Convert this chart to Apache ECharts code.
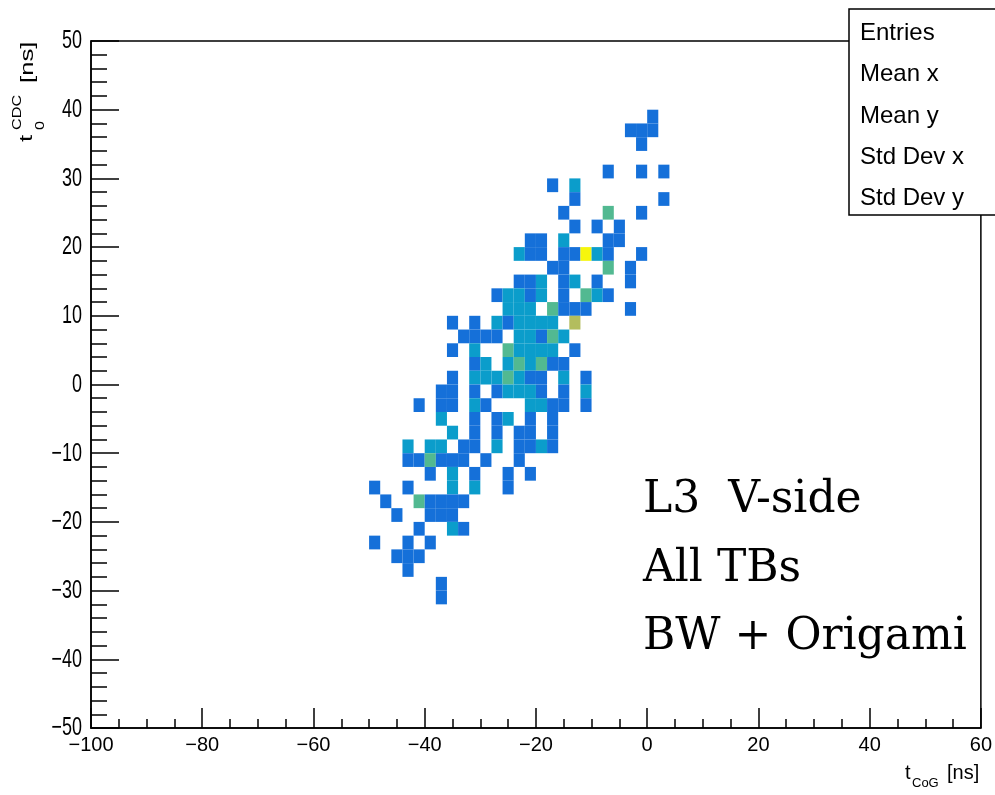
<!DOCTYPE html>
<html>
<head>
<meta charset="utf-8">
<script src="https://cdn.jsdelivr.net/npm/echarts@6/dist/echarts.min.js"></script>
<style>
html,body{margin:0;padding:0;background:#fff;}
#chart{width:995px;height:795px;}
</style>
</head>
<body>
<div id="chart"></div>
<script>
// ---- Data (2D histogram, 2 ns x 2 ns bins; values are bin low edges) ----
const BIN = 2;
const xRange = [-100, 60];
const yRange = [-50, 50];
const xTicks = [-100, -80, -60, -40, -20, 0, 20, 40, 60];
const yTicks = [-50, -40, -30, -20, -10, 0, 10, 20, 30, 40, 50];

// y low edge of each row of bins
const rowY = [38, 36, 34, 30, 28, 26, 24, 22, 20, 18, 16, 14, 12, 10, 8, 6, 4, 2, 0,
  -2, -4, -6, -8, -10, -12, -14, -16, -18, -20, -22, -24, -26, -28, -30, -32];
// x low edges of filled bins in each row
const rowX = [
  [0],
  [-4, -2, 0],
  [-2],
  [-8, -2, 2],
  [-18, -14],
  [-14, 2],
  [-16, -8, -2],
  [-14, -10, -6],
  [-22, -20, -16, -8, -6],
  [-24, -22, -20, -16, -14, -12, -10, -8, -2],
  [-18, -16, -8, -4],
  [-24, -22, -20, -16, -14, -10, -4],
  [-28, -26, -24, -22, -20, -16, -12, -10, -8],
  [-26, -24, -22, -18, -16, -14, -12, -4],
  [-36, -32, -28, -26, -24, -22, -20, -18, -14],
  [-34, -32, -30, -28, -24, -22, -20, -18, -16],
  [-36, -32, -26, -24, -22, -20, -18, -14],
  [-32, -30, -26, -24, -22, -20, -18, -16],
  [-36, -32, -30, -28, -26, -24, -22, -20, -16, -12],
  [-38, -36, -32, -28, -26, -24, -22, -20, -16, -12],
  [-42, -38, -36, -32, -30, -22, -20, -18, -16, -12],
  [-38, -32, -28, -26, -22, -18],
  [-36, -32, -28, -24, -22, -18],
  [-44, -40, -38, -34, -32, -28, -24, -22, -20, -18],
  [-44, -42, -40, -38, -36, -34, -30, -24],
  [-40, -36, -32, -26, -22],
  [-50, -44, -36, -32, -26],
  [-48, -42, -40, -38, -36, -34],
  [-46, -40, -38, -36],
  [-42, -36, -34],
  [-50, -44, -40],
  [-46, -44, -42],
  [-44],
  [-38],
  [-38]
];
// entries in each of those bins
const rowCount = [
  [1],
  [1, 1, 1],
  [1],
  [1, 1, 1],
  [1, 2],
  [1, 1],
  [1, 3, 1],
  [1, 1, 1],
  [1, 1, 2, 1, 1],
  [2, 1, 1, 1, 1, 5, 2, 1, 1],
  [1, 1, 3, 1],
  [1, 1, 2, 1, 2, 1, 1],
  [1, 2, 2, 1, 2, 1, 3, 2, 1],
  [2, 2, 2, 3, 1, 1, 1, 1],
  [1, 1, 2, 1, 2, 2, 2, 2, 4],
  [1, 1, 1, 1, 2, 2, 1, 3, 2],
  [1, 2, 3, 2, 2, 2, 2, 1],
  [1, 2, 2, 3, 2, 3, 1, 1],
  [1, 2, 2, 2, 3, 2, 1, 1, 2, 1],
  [1, 1, 1, 1, 2, 2, 2, 1, 1, 2],
  [1, 1, 1, 2, 1, 2, 2, 1, 1, 1],
  [2, 1, 1, 2, 1, 1],
  [2, 1, 1, 1, 1, 1],
  [2, 2, 2, 1, 1, 2, 1, 1, 2, 1],
  [1, 1, 3, 1, 1, 1, 1, 1],
  [1, 2, 1, 1, 1],
  [1, 1, 2, 2, 1],
  [1, 3, 1, 1, 1, 1],
  [1, 1, 1, 1],
  [1, 2, 1],
  [1, 1, 1],
  [1, 1, 1],
  [1],
  [1],
  [1]
];
const countLevels = [1, 2, 3, 4, 5];
const levelColors = ['#1570d9', '#0b9dcb', '#52b991', '#b3bd5d', '#f6f60c'];

const statLabels = ['Entries', 'Mean x', 'Mean y', 'Std Dev x', 'Std Dev y'];
const noteLines = ['L3  V-side', 'All TBs', 'BW + Origami'];

// ---- Build cells ----
const cells = [];
rowY.forEach((y, i) => {
  rowX[i].forEach((x, j) => cells.push([x, y, rowCount[i][j]]));
});

const minus = v => String(v).replace('-', '\u2212');
const AX = '#000';
const sans = '"Liberation Sans", Arial, sans-serif';

const chart = echarts.init(document.getElementById('chart'), null, {renderer: 'canvas'});

function staticGraphics() {
  const g = [];
  // stats box
  g.push({
    type: 'rect', z: 100,
    shape: {x: 849, y: 9, width: 160, height: 206},
    style: {fill: '#fff', stroke: '#000', lineWidth: 1.5}
  });
  statLabels.forEach((t, i) => {
    g.push({
      type: 'text', z: 101, x: 860, y: 33.5 + i * 41.3,
      style: {text: t, font: '24px ' + sans, fill: '#000',
        textAlign: 'left', textVerticalAlign: 'middle'}
    });
  });
  // annotation
  noteLines.forEach((t, i) => {
    g.push({
      type: 'text', z: 101, x: 643, y: 501 + i * 68.3,
      style: {text: t, font: '44px "DejaVu Serif", serif', fill: '#000',
        textAlign: 'left', textVerticalAlign: 'middle'}
    });
  });
  // x axis title: t_{CoG} [ns]
  g.push(
    {type: 'text', z: 101, x: 905, y: 773, style: {text: 't', font: '20px ' + sans, fill: '#000', textAlign: 'left', textVerticalAlign: 'middle'}},
    {type: 'text', z: 101, x: 912, y: 783, style: {text: 'CoG', font: '13px ' + sans, fill: '#000', textAlign: 'left', textVerticalAlign: 'middle'}},
    {type: 'text', z: 101, x: 947, y: 773, style: {text: '[ns]', font: '20px ' + sans, fill: '#000', textAlign: 'left', textVerticalAlign: 'middle'}}
  );
  // y axis title: t_{0}^{CDC} [ns], rotated
  const R = Math.PI / 2, SX = 1.35;
  g.push(
    {type: 'text', z: 101, x: 27, y: 142, rotation: R, scaleX: SX, style: {text: 't', font: '19px ' + sans, fill: '#000', textAlign: 'left', textVerticalAlign: 'middle'}},
    {type: 'text', z: 101, x: 41, y: 130, rotation: R, scaleX: SX, style: {text: '0', font: '12px ' + sans, fill: '#000', textAlign: 'left', textVerticalAlign: 'middle'}},
    {type: 'text', z: 101, x: 18, y: 130, rotation: R, scaleX: SX, style: {text: 'CDC', font: '12px ' + sans, fill: '#000', textAlign: 'left', textVerticalAlign: 'middle'}},
    {type: 'text', z: 101, x: 27.5, y: 83, rotation: R, scaleX: SX, style: {text: '[ns]', font: '19px ' + sans, fill: '#000', textAlign: 'left', textVerticalAlign: 'middle'}}
  );
  return g;
}

chart.setOption({
  backgroundColor: '#fff',
  animation: false,
  grid: {left: 91, right: 12, top: 41, bottom: 67, show: true, borderColor: '#000', borderWidth: 1.5, backgroundColor: 'transparent'},
  xAxis: {
    type: 'value', min: xRange[0], max: xRange[1], interval: 20,
    axisLine: {show: true, onZero: false, lineStyle: {color: AX, width: 1.5}},
    axisTick: {show: true, inside: true, length: 20, lineStyle: {color: AX, width: 1.5}},
    minorTick: {show: true, splitNumber: 4, length: 9, lineStyle: {color: AX, width: 1.5}},
    splitLine: {show: false},
    axisLabel: {color: '#000', fontSize: 20, fontFamily: 'Liberation Sans', margin: 7,
      formatter: v => xTicks.includes(v) ? minus(v) : ''}
  },
  yAxis: {
    type: 'value', min: yRange[0], max: yRange[1], interval: 10,
    axisLine: {show: true, onZero: false, lineStyle: {color: AX, width: 1.5}},
    axisTick: {show: true, inside: true, length: 28, lineStyle: {color: AX, width: 1.5}},
    minorTick: {show: true, splitNumber: 5, length: 16, lineStyle: {color: AX, width: 1.5}},
    splitLine: {show: false},
    axisLabel: {show: false}
  },
  visualMap: {
    type: 'piecewise', show: false, dimension: 2, seriesIndex: 0,
    pieces: countLevels.map((v, i) => ({value: v, color: levelColors[i]}))
  },
  series: [{
    type: 'custom',
    coordinateSystem: 'cartesian2d',
    encode: {x: 0, y: 1},
    data: cells,
    renderItem: function (params, api) {
      const x0 = api.value(0), y0 = api.value(1);
      const p0 = api.coord([x0, y0 + BIN]);
      const p1 = api.coord([x0 + BIN, y0]);
      return {
        type: 'rect',
        shape: {x: p0[0], y: p0[1], width: p1[0] - p0[0], height: p1[1] - p0[1]},
        style: {fill: api.visual('color')}
      };
    }
  }],
  graphic: staticGraphics()
});

// y tick labels: tall, narrow glyphs as in the original; positioned with the axis scale
const yLabelGraphics = yTicks.map(v => {
  const p = chart.convertToPixel({gridIndex: 0}, [xRange[0], v]);
  return {
    type: 'text', z: 101, x: p[0] - 9, y: p[1] + 0.5, scaleX: 0.72,
    style: {text: minus(v), font: '25px ' + sans, fill: '#000', textAlign: 'right', textVerticalAlign: 'middle'}
  };
});
chart.setOption({graphic: staticGraphics().concat(yLabelGraphics)}, {replaceMerge: ['graphic']});
</script>
</body>
</html>
